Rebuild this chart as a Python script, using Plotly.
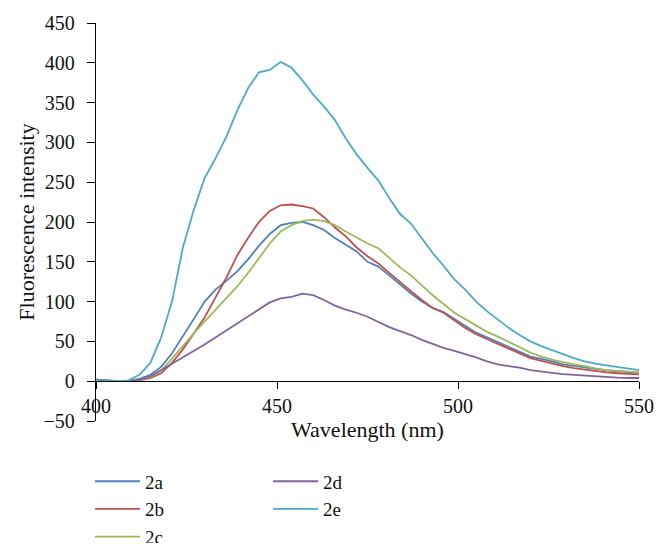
import plotly.graph_objects as go

wavelength = [400, 403, 406, 409, 412, 415, 418, 421, 424, 427, 430, 433, 436, 439, 442, 445,
              448, 451, 454, 457, 460, 463, 466, 469, 472, 475, 478, 481, 484, 487, 490, 493,
              496, 499, 502, 505, 508, 511, 514, 517, 520, 523, 526, 529, 532, 535, 538, 541,
              544, 547, 550]

s2a = [1, 0.5, 0, 0.5, 3, 8, 18, 35, 56, 78, 100, 115, 126, 138, 153, 170,
       185, 196, 199, 200, 196, 190, 180, 171, 163, 150, 144, 133, 121, 110, 100, 92,
       87, 78, 70, 61, 55, 49, 44, 38, 31, 28, 25, 21, 19, 17, 15, 13.5,
       12.5, 11.5, 10.5]

s2b = [2, 1, 0, 0, 1, 4, 10, 23, 40, 60, 80, 105, 130, 158, 180, 200,
       214, 221, 222, 220, 217, 206, 193, 182, 168, 157, 148, 136, 124, 113, 102, 92,
       86, 76, 67, 59, 53, 47, 42, 35, 29, 25.5, 22, 19, 16.5, 14.5, 12.5, 11,
       10, 9, 8.5]

s2c = [1, 0.5, 0, 0, 2, 5, 13, 28, 44, 60, 75, 90, 104, 119, 136, 155,
       173, 188, 196, 201, 203, 201, 196, 188, 180, 173, 167, 155, 143, 133, 120, 108,
       97, 86, 78, 70, 62, 56, 49, 42, 36, 31, 27, 24, 21, 19, 16, 14,
       13, 12, 11]

s2d = [2, 1, 0, 0, 2, 6, 14, 22, 29, 38, 46, 55, 64, 72, 82, 91,
       99, 104, 106, 110, 108, 102, 95, 90, 86, 81, 74, 68, 63, 58, 52, 47,
       42, 38, 34, 30, 25, 21, 19, 17, 14, 12, 10.5, 9, 8, 7, 6, 5,
       4.5, 4, 4]

s2e = [1, 0.5, 0, 1, 8, 23, 55, 100, 168, 215, 255, 280, 307, 340, 368, 388,
       391, 401, 394, 378, 360, 345, 328, 305, 285, 268, 252, 230, 210, 198, 180, 161,
       145, 128, 115, 100, 88, 77, 67, 58, 50, 44, 39, 34, 29, 25, 22, 20,
       18, 16, 14]

names = ["2a", "2b", "2c", "2d", "2e"]
series = [s2a, s2b, s2c, s2d, s2e]
colors = ["#4F81BD", "#C0504D", "#9BBB59", "#8064A2", "#4BACC6"]
legend_ids = ["legend", "legend", "legend", "legend2", "legend2"]

FONT = "Liberation Serif"

fig = go.Figure()
for n, s, c, lg in zip(names, series, colors, legend_ids):
    fig.add_trace(go.Scatter(x=wavelength, y=s, name=n, mode="lines",
                             line=dict(color=c, width=1.8), legend=lg))

legend_common = dict(font=dict(family=FONT, size=19, color="#111"),
                     orientation="v", xanchor="left", yanchor="top",
                     itemwidth=45, bgcolor="rgba(0,0,0,0)", traceorder="normal")

fig.update_layout(
    width=660, height=535,
    margin=dict(l=88, r=29, t=15, b=121.5, autoexpand=False),
    paper_bgcolor="white", plot_bgcolor="white",
    font=dict(family=FONT, size=20, color="#111"),
    showlegend=True,
    legend=dict(x=-0.011, y=-0.104, **legend_common),
    legend2=dict(x=0.3168, y=-0.104, **legend_common),
    xaxis=dict(range=[400, 550], tick0=400, dtick=50, anchor="free", position=0.1,
               showline=True, linecolor="black", linewidth=1.3,
               ticks="outside", ticklen=7, tickwidth=1.3, tickcolor="black",
               showgrid=False, zeroline=False,
               tickfont=dict(family=FONT, size=20, color="#111"),
               title=dict(text="Wavelength (nm)", standoff=4,
                          font=dict(family=FONT, size=22, color="#111"))),
    yaxis=dict(range=[-50, 450], tick0=-50, dtick=50,
               showline=True, linecolor="black", linewidth=1.3,
               ticks="outside", ticklen=8, tickwidth=1.3, tickcolor="black",
               showgrid=False, zeroline=False, ticklabelstandoff=8,
               tickfont=dict(family=FONT, size=20, color="#111"),
               title=dict(text="Fluorescence intensity", standoff=2,
                          font=dict(family=FONT, size=22, color="#111"))),
)

fig.write_html("out.html")
